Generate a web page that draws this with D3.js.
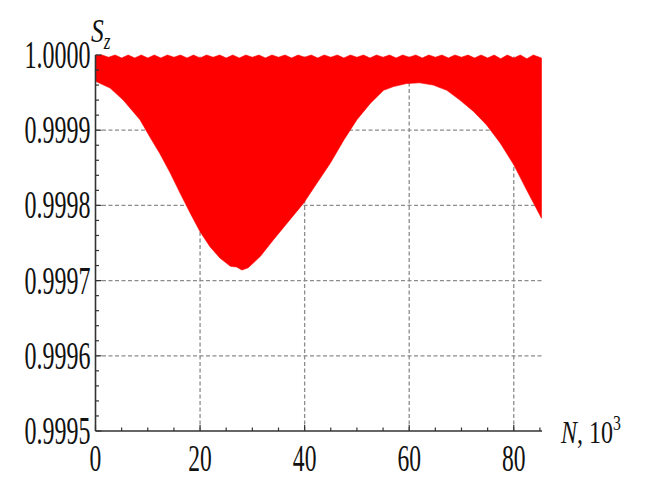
<!DOCTYPE html>
<html>
<head>
<meta charset="utf-8">
<script src="https://cdn.jsdelivr.net/npm/d3@7"></script>
<style>
  html, body { margin: 0; padding: 0; background: #fff; }
  svg { display: block; }
  text { font-family: "Liberation Serif", "DejaVu Serif", serif; fill: #111; }
</style>
</head>
<body>
<div id="chart"></div>
<script>
// Data: S_z vs N (in 10^3)
// lower edge of the red band
const lowerN = [0, 2.8, 5.3, 8.5, 10.4, 12.3, 14.3, 16.2, 18.1, 20, 21.9, 23.8, 25.8, 27, 28,
  29.2, 31.5, 34, 36.6, 39.8, 42.3, 44.9, 47.5, 50, 52.6, 55.1, 57, 59.5, 62, 64.6, 67.2,
  69.7, 72.3, 74.8, 77.4, 80, 82.5, 85.3];
const lowerS = [0.999965, 0.999956, 0.99994, 0.999914, 0.999891, 0.999869, 0.999843,
  0.999816, 0.99979, 0.999765, 0.999745, 0.99973, 0.999719, 0.999718, 0.999714,
  0.999717, 0.999732,
  0.999754, 0.999776, 0.999803, 0.999829, 0.999856, 0.999887, 0.999914, 0.999936,
  0.999953, 0.999958, 0.999962, 0.999963, 0.99996, 0.999953, 0.99994, 0.999925,
  0.999907, 0.999883, 0.999854, 0.99982, 0.999783];

// upper edge (small ripples just under 1)
const upperN = [0, 1.25, 2.5, 3.75, 5, 6.25, 7.5, 8.75, 10, 11.25, 12.5, 13.75, 15, 16.25,
  17.5, 18.75, 20, 21.25, 22.5, 23.75, 25, 26.25, 27.5, 28.75, 30, 31.25, 32.5, 33.75,
  35, 36.25, 37.5, 38.75, 40, 41.25, 42.5, 43.75, 45, 46.25, 47.5, 48.75, 50, 51.25,
  52.5, 53.75, 55, 56.25, 57.5, 58.75, 60, 61.25, 62.5, 63.75, 65, 66.25, 67.5, 68.75,
  70, 71.25, 72.5, 73.75, 75, 76.25, 77.5, 78.75, 80, 81.25, 82.5, 83.75, 85.3];
const upperS = [1, 1, 0.999997, 1, 0.999996, 1, 0.999996, 1, 0.999996, 1, 0.999996, 1,
  0.999997, 1, 0.999996, 1, 0.999996, 1, 0.999997, 1, 0.999996, 1, 0.999996, 1,
  0.999997, 1, 0.999996, 1, 0.999997, 1, 0.999996, 1, 0.999997, 1, 0.999996, 1,
  0.999997, 1, 0.999996, 1, 0.999997, 1, 0.999996, 1, 0.999997, 1, 0.999996, 1,
  0.999997, 1, 0.999996, 1, 0.999997, 1, 0.999996, 1, 0.999997, 1, 0.999996, 1,
  0.999996, 1, 0.999995, 1, 0.999996, 1, 0.999995, 1, 0.999996];

const xTicks = [0, 20, 40, 60, 80];
const xMinor = [5, 10, 15, 25, 30, 35, 45, 50, 55, 65, 70, 75, 85];
const yTicks = [0.9995, 0.9996, 0.9997, 0.9998, 0.9999, 1.0];
const yMinor = [0.99952, 0.99954, 0.99956, 0.99958, 0.99962, 0.99964, 0.99966, 0.99968,
  0.99972, 0.99974, 0.99976, 0.99978, 0.99982, 0.99984, 0.99986, 0.99988,
  0.99992, 0.99994, 0.99996, 0.99998];

const width = 656;
const height = 480;

const svg = d3.select('#chart').append('svg')
  .attr('width', width)
  .attr('height', height);

const xScale = d3.scaleLinear().domain([0, 85.4]).range([95.5, 542]);
const yScale = d3.scaleLinear().domain([0.9995, 1.0]).range([431, 55]);

// gridlines
const grid = svg.append('g')
  .attr('stroke', '#8c8c8c')
  .attr('stroke-width', 1.3)
  .attr('stroke-dasharray', '4,2.5');
grid.selectAll('line.gx')
  .data(xTicks.filter(d => d > 0))
  .join('line')
  .attr('x1', d => xScale(d)).attr('x2', d => xScale(d))
  .attr('y1', yScale(0.9995)).attr('y2', yScale(1.0));
grid.selectAll('line.gy')
  .data(yTicks.filter(d => d > 0.9995 && d < 1))
  .join('line')
  .attr('class', 'gy')
  .attr('x1', xScale(0)).attr('x2', xScale(85.4))
  .attr('y1', d => yScale(d)).attr('y2', d => yScale(d));

// red band: upper edge left->right, lower edge right->left
const pts = upperN.map((n, i) => [n, upperS[i]])
  .concat(lowerN.map((n, i) => [n, lowerS[i]]).reverse());
const band = d3.line()
  .x(d => xScale(d[0]))
  .y(d => yScale(d[1]));
svg.append('path')
  .attr('d', band(pts) + 'Z')
  .attr('fill', '#ff0000')
  .attr('stroke', '#ff0000')
  .attr('stroke-width', 0.6);

// axes
const axes = svg.append('g').attr('stroke', '#333').attr('stroke-width', 1.6);
axes.append('line')
  .attr('x1', xScale(0)).attr('x2', xScale(85.4))
  .attr('y1', yScale(0.9995)).attr('y2', yScale(0.9995));
axes.append('line')
  .attr('x1', xScale(0)).attr('x2', xScale(0))
  .attr('y1', yScale(0.9995)).attr('y2', yScale(1.0));

// ticks point inward
const tk = svg.append('g').attr('stroke', '#333').attr('stroke-width', 1.2);
tk.selectAll('line.xmaj').data(xTicks).join('line').attr('class', 'xmaj')
  .attr('x1', d => xScale(d)).attr('x2', d => xScale(d))
  .attr('y1', yScale(0.9995)).attr('y2', yScale(0.9995) - 6);
tk.selectAll('line.xmin').data(xMinor).join('line').attr('class', 'xmin')
  .attr('x1', d => xScale(d)).attr('x2', d => xScale(d))
  .attr('y1', yScale(0.9995)).attr('y2', yScale(0.9995) - 3.5);
tk.selectAll('line.ymaj').data(yTicks).join('line').attr('class', 'ymaj')
  .attr('x1', xScale(0)).attr('x2', xScale(0) + 6)
  .attr('y1', d => yScale(d)).attr('y2', d => yScale(d));
tk.selectAll('line.ymin').data(yMinor).join('line').attr('class', 'ymin')
  .attr('x1', xScale(0)).attr('x2', xScale(0) + 3.5)
  .attr('y1', d => yScale(d)).attr('y2', d => yScale(d));

// tick labels (narrow serif, like the original)
svg.append('g').selectAll('text')
  .data(yTicks).join('text')
  .attr('transform', d => `translate(90.5, ${yScale(d) + 13}) scale(0.6, 1)`)
  .attr('text-anchor', 'end')
  .style('font-size', '40px')
  .text(d => d3.format('.4f')(d));

svg.append('g').selectAll('text')
  .data(xTicks).join('text')
  .attr('transform', d => `translate(${xScale(d)}, 471) scale(0.62, 1)`)
  .attr('text-anchor', 'middle')
  .style('font-size', '38px')
  .text(d => d);

// axis titles
const yl = svg.append('text')
  .attr('transform', 'translate(91, 42) scale(0.75, 1)')
  .style('font-size', '34px')
  .style('font-style', 'italic');
yl.append('tspan').text('S');
yl.append('tspan').attr('dy', 7).style('font-size', '23px').text('z');

const xl = svg.append('text')
  .attr('transform', 'translate(561, 443) scale(0.75, 1)')
  .style('font-size', '32px');
xl.append('tspan').style('font-style', 'italic').text('N');
xl.append('tspan').text(', 10');
xl.append('tspan').attr('dy', -13).style('font-size', '21px').text('3');
</script>
</body>
</html>
